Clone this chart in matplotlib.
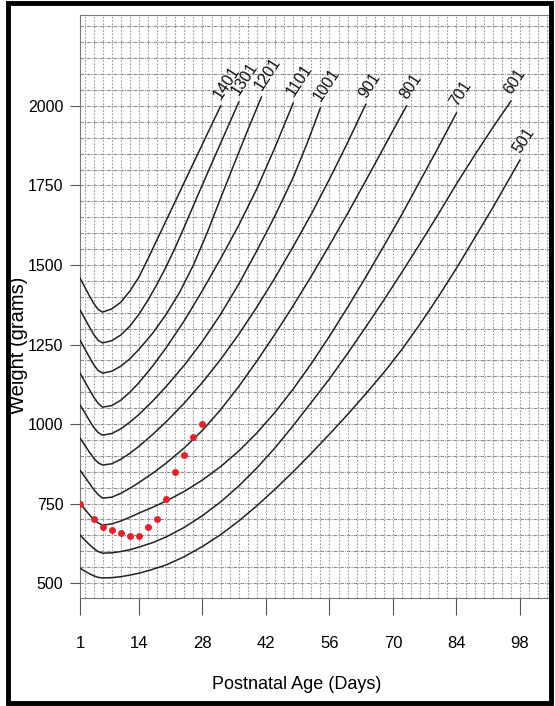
import matplotlib.pyplot as plt
from matplotlib.patches import Rectangle

# growth curves (day, grams)
days_501 = [1, 2, 3, 4, 5, 6, 8, 10, 12, 14, 17, 20, 24, 28, 32, 36, 40, 44, 48, 52, 56, 60, 64, 68, 72, 76, 80, 84, 88, 92, 95, 98]
wt_501 = [547, 538, 530, 523, 518, 516, 517, 520, 525, 531, 543, 557, 583, 615, 652, 695, 743, 795, 850, 908, 968, 1030, 1095, 1162, 1235, 1315, 1400, 1490, 1585, 1680, 1755, 1830]
days_601 = [1, 2, 3, 4, 5, 6, 8, 10, 12, 14, 17, 20, 24, 28, 32, 36, 40, 44, 48, 52, 56, 60, 64, 68, 72, 76, 80, 84, 88, 92, 96]
wt_601 = [651, 636, 622, 609, 599, 594, 595, 599, 605, 613, 627, 645, 675, 712, 755, 805, 862, 925, 995, 1068, 1142, 1222, 1305, 1390, 1478, 1568, 1660, 1755, 1845, 1932, 2015]
days_701 = [1, 2, 3, 4, 5, 6, 8, 10, 12, 14, 17, 20, 24, 28, 32, 36, 40, 44, 48, 52, 56, 60, 64, 68, 72, 76, 80, 84]
wt_701 = [750, 733, 716, 701, 689, 682, 686, 695, 707, 720, 738, 758, 788, 824, 866, 915, 972, 1037, 1110, 1190, 1276, 1367, 1462, 1560, 1660, 1765, 1870, 1978]
days_801 = [1, 2, 3, 4, 5, 6, 8, 10, 12, 14, 17, 20, 24, 28, 32, 36, 40, 44, 48, 52, 56, 60, 64, 68, 72, 73]
wt_801 = [855, 835, 815, 795, 778, 767, 770, 782, 798, 816, 845, 877, 925, 980, 1045, 1118, 1198, 1283, 1372, 1465, 1562, 1662, 1765, 1870, 1975, 2000]
days_901 = [1, 2, 3, 4, 5, 6, 8, 10, 12, 14, 17, 20, 24, 28, 32, 36, 40, 44, 48, 52, 56, 60, 64]
wt_901 = [956, 935, 913, 893, 878, 871, 875, 889, 908, 930, 967, 1007, 1066, 1131, 1203, 1282, 1368, 1460, 1558, 1660, 1770, 1885, 2005]
days_1001 = [1, 2, 3, 4, 5, 6, 8, 10, 12, 14, 17, 20, 24, 28, 32, 36, 40, 44, 48, 51, 54]
wt_1001 = [1060, 1037, 1013, 990, 973, 965, 970, 985, 1006, 1030, 1072, 1118, 1185, 1260, 1345, 1440, 1545, 1655, 1775, 1880, 1994]
days_1101 = [1, 2, 3, 4, 5, 6, 8, 10, 12, 14, 17, 20, 24, 28, 32, 36, 40, 44, 48]
wt_1101 = [1160, 1135, 1110, 1085, 1065, 1053, 1058, 1075, 1100, 1130, 1182, 1240, 1325, 1420, 1520, 1625, 1740, 1870, 2009]
days_1201 = [1, 2, 3, 4, 5, 6, 8, 10, 12, 14, 17, 20, 23, 26, 29, 32, 35, 38, 41]
wt_1201 = [1264, 1238, 1212, 1187, 1168, 1160, 1166, 1182, 1205, 1235, 1285, 1345, 1415, 1500, 1600, 1710, 1818, 1925, 2028]
days_1301 = [1, 2, 3, 4, 5, 6, 8, 10, 12, 14, 16, 18, 20, 22, 24, 27, 30, 33, 36]
wt_1301 = [1359, 1333, 1307, 1282, 1263, 1255, 1262, 1280, 1308, 1345, 1390, 1440, 1495, 1555, 1620, 1720, 1818, 1915, 2012]
days_1401 = [1, 2, 3, 4, 5, 6, 8, 10, 12, 14, 16, 18, 20, 23, 26, 29, 32]
wt_1401 = [1459, 1432, 1405, 1380, 1360, 1352, 1362, 1383, 1418, 1462, 1520, 1580, 1640, 1730, 1820, 1910, 2000]

curve_days = [days_501, days_601, days_701, days_801, days_901,
              days_1001, days_1101, days_1201, days_1301, days_1401]
curve_wts = [wt_501, wt_601, wt_701, wt_801, wt_901,
             wt_1001, wt_1101, wt_1201, wt_1301, wt_1401]
curve_names = ['501', '601', '701', '801', '901', '1001', '1101', '1201', '1301', '1401']

# the infant's weights (red dots)
pt_days = [1, 4, 6, 8, 10, 12, 14, 16, 18, 20, 22, 24, 26, 28]
pt_wts = [750, 700, 675, 667, 657, 649, 649, 675, 700, 764, 850, 903, 958, 1000]

xticks = [1, 14, 28, 42, 56, 70, 84, 98]
yticks = [500, 750, 1000, 1250, 1500, 1750, 2000]

font = ['Liberation Sans', 'DejaVu Sans']

fig = plt.figure(figsize=(5.55, 7.06), dpi=100)
ax = fig.add_axes([80 / 555, 1 - 598 / 706, 469 / 555, 583 / 706])

# grid
for w in range(450, 2300, 50):
    ax.axhline(w, color='#8a8a8a', lw=0.8, ls=(0, (3, 1, 1, 1)), zorder=1)
for d in range(2, 105, 2):
    ax.axvline(d, color='#9a9a9a', lw=0.8, ls=(0, (1.5, 1.5)), zorder=1)

for dd, ww, name in zip(curve_days, curve_wts, curve_names):
    ax.plot(dd, ww, color='#222222', lw=1.1, zorder=3, solid_joinstyle='round')
    ax.annotate(name, (dd[-1], ww[-1]), xytext=(2, 3), textcoords='offset points',
                rotation=57, rotation_mode='anchor', ha='left', va='bottom',
                fontsize=11.5, family=font, color='#111111')

ax.plot(pt_days, pt_wts, 'o', color='#e8202a', ms=5, mec='none', zorder=4)

ax.set_xlim(1, 104.4)
ax.set_ylim(453, 2286)
ax.set_xticks(xticks)
ax.set_yticks(yticks)
ax.set_xticklabels([str(t) for t in xticks], fontsize=12, family=font)
ax.set_yticklabels([str(t) for t in yticks], fontsize=11.5, family=font)
ax.tick_params(axis='x', length=12, width=0.8, color='#555555', pad=15)
ax.tick_params(axis='y', length=7, width=0.8, color='#555555', pad=5)
for s in ax.spines.values():
    s.set_color('#777777')
    s.set_linewidth(0.8)

ax.set_xlabel('Postnatal Age (Days)', fontsize=13, family=font, va='center')
ax.xaxis.set_label_coords(0.463, -0.149)
ax.set_ylabel('Weight (grams)', fontsize=14.5, family=font, va='center')
ax.yaxis.set_label_coords(-0.132, 0.434)

fig.patches.append(Rectangle((8 / 555, 3 / 706), 543 / 555, 700 / 706, fill=False,
                             lw=3.5, ec='black', transform=fig.transFigure))

fig.savefig('out.png', dpi=100)
